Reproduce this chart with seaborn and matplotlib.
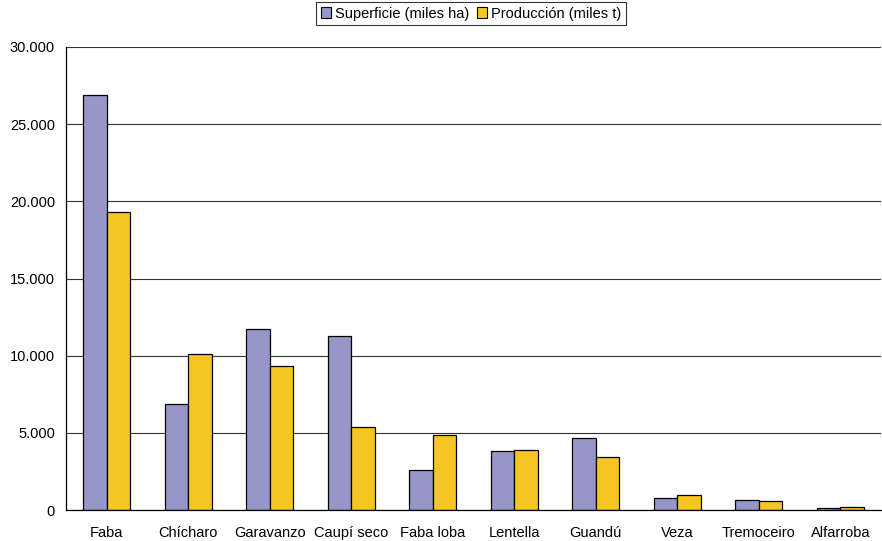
import matplotlib
matplotlib.use("Agg")
import matplotlib.pyplot as plt
from matplotlib.patches import Patch
from matplotlib.ticker import FuncFormatter, FixedLocator
import seaborn as sns
import pandas as pd

cultivos = ["Faba", "Chícharo", "Garavanzo", "Caupí seco", "Faba loba",
            "Lentella", "Guandú", "Veza", "Tremoceiro", "Alfarroba"]
superficie = [26900, 6900, 11700, 11300, 2620, 3800, 4650, 780, 670, 100]
produccion = [19300, 10130, 9330, 5370, 4870, 3860, 3440, 990, 610, 180]
series = ["Superficie (miles ha)", "Producción (miles t)"]
colores = ["#9696C8", "#F5C623"]

df = pd.DataFrame({
    "cultivo": cultivos * 2,
    "serie": [series[0]] * len(cultivos) + [series[1]] * len(cultivos),
    "valor": superficie + produccion,
})

sns.set_style("white")
plt.rcParams["font.family"] = ["Liberation Sans", "DejaVu Sans"]
plt.rcParams["text.color"] = "black"
plt.rcParams["xtick.color"] = "black"
plt.rcParams["ytick.color"] = "black"

fig = plt.figure(figsize=(8.82, 5.41), dpi=100)
ax = fig.add_axes([66 / 882, 1 - 510 / 541, 1 - 66 / 882 - 0.001, (510 - 47) / 541])

sns.barplot(data=df, x="cultivo", y="valor", hue="serie", order=cultivos,
            hue_order=series, palette=colores, width=0.573, gap=0,
            edgecolor="black", linewidth=0.9, saturation=1, ax=ax, legend=False)

ax.set_ylim(0, 30000)
ax.set_xlim(-0.5, 9.5)
ax.set_yticks(range(0, 30001, 5000))
ax.yaxis.set_major_formatter(FuncFormatter(lambda v, p: f"{int(v):,}".replace(",", ".")))
ax.yaxis.grid(True, color="#333333", linewidth=0.8)
ax.set_axisbelow(True)
ax.set_xlabel("")
ax.set_ylabel("")

for s in ["top", "right"]:
    ax.spines[s].set_visible(False)
for s in ["left", "bottom"]:
    ax.spines[s].set_color("black")
    ax.spines[s].set_linewidth(0.9)

ax.tick_params(axis="y", which="major", direction="out", length=4, width=0.8,
               color="black", labelcolor="black", labelsize=10.5, pad=4)
ax.tick_params(axis="x", which="major", length=0, labelcolor="black", labelsize=10.5, pad=11.5)
ax.xaxis.set_minor_locator(FixedLocator([i + 0.5 for i in range(len(cultivos) - 1)]))
ax.tick_params(axis="x", which="minor", direction="out", length=4, width=0.8, color="black")

handles = [Patch(facecolor=c, edgecolor="black", linewidth=0.8) for c in colores]
leg = fig.legend(handles, series, loc="upper center", bbox_to_anchor=(471 / 882, 0.996),
                 ncol=2, frameon=True, fancybox=False, fontsize=10.5,
                 handlelength=0.7, handleheight=0.7, handletextpad=0.3,
                 columnspacing=0.5, borderpad=0.3, borderaxespad=0)
leg.get_frame().set_edgecolor("black")
leg.get_frame().set_linewidth(0.8)

fig.savefig("out.png", dpi=100)
